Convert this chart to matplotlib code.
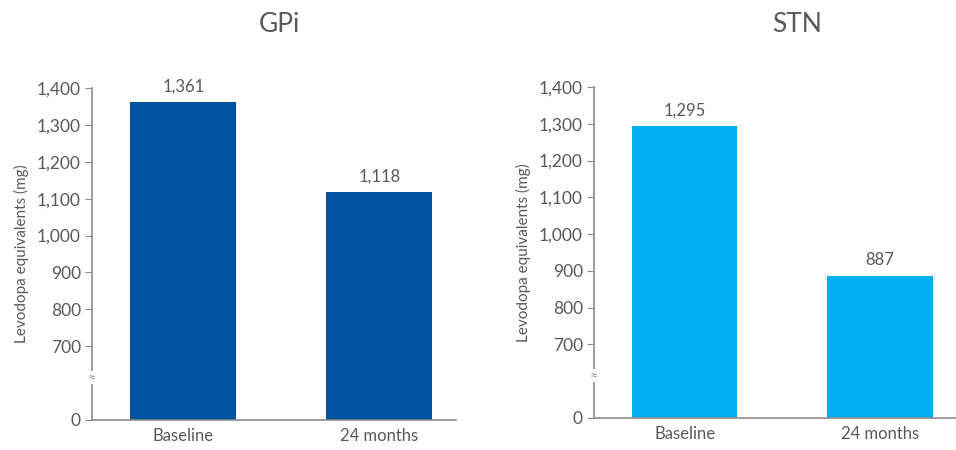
import numpy as np
import matplotlib.pyplot as plt

plt.rcParams['font.family'] = ['Lato', 'DejaVu Sans']

categories = ["Baseline", "24 months"]
gpi_values = [1361, 1118]
stn_values = [1295, 887]
panel_titles = ["GPi", "STN"]
panel_colors = ["#00519E", "#00AEEF"]
ytick_values = [0, 700, 800, 900, 1000, 1100, 1200, 1300, 1400]

TXT = "#595959"
AXC = "#8c8c8c"


# broken axis: 0..600 squeezed into the bottom, 600+ linear
def fwd(v):
    v = np.asarray(v, dtype=float)
    return np.where(v < 600, v * 100 / 600, v - 500)


def inv(y):
    y = np.asarray(y, dtype=float)
    return np.where(y < 100, y * 6, y + 500)


fig = plt.figure(figsize=(9.56, 4.5), dpi=100)
boxes = [[92 / 956, 30 / 450, 364 / 956, 332 / 450],
         [594 / 956, 32 / 450, 362 / 956, 331 / 450]]
title_x = [279 / 956, 797 / 956]

for i, vals in enumerate([gpi_values, stn_values]):
    ax = fig.add_axes(boxes[i])
    ax.set_yscale('function', functions=(fwd, inv))
    x = np.arange(len(categories))
    ax.bar(x, vals, width=0.54, color=panel_colors[i], zorder=2)
    for xi, v in zip(x, vals):
        ax.text(xi, v + 20, f"{v:,}", ha='center', va='bottom',
                fontsize=12, color=TXT)
    ax.set_ylim(0, 1400)
    ax.set_xlim(-0.465, 1.39)
    ax.set_yticks(ytick_values)
    ax.set_yticklabels([f"{t:,}" for t in ytick_values])
    ax.set_xticks(x)
    ax.set_xticklabels(categories)
    ax.tick_params(axis='y', length=5, color=AXC, labelsize=12.5,
                   labelcolor=TXT, pad=3)
    ax.tick_params(axis='x', length=0, labelsize=12, labelcolor=TXT, pad=6)
    for s in ['top', 'right']:
        ax.spines[s].set_visible(False)
    for s in ['left', 'bottom']:
        ax.spines[s].set_color(AXC)
        ax.spines[s].set_linewidth(1.2)
    ax.set_ylabel("Levodopa equivalents (mg)", fontsize=11, color=TXT,
                  labelpad=6)
    # break marker on the y spine
    ax.text(0, 115 / 900, "≈", transform=ax.transAxes, ha='center',
            va='center', fontsize=10, color=AXC, rotation=0,
            bbox=dict(facecolor='white', edgecolor='none', pad=0.3))
    fig.text(title_x[i], 1 - 25 / 450, panel_titles[i], ha='center',
             va='center', fontsize=19, color=TXT)

fig.savefig("out.png", dpi=100)
